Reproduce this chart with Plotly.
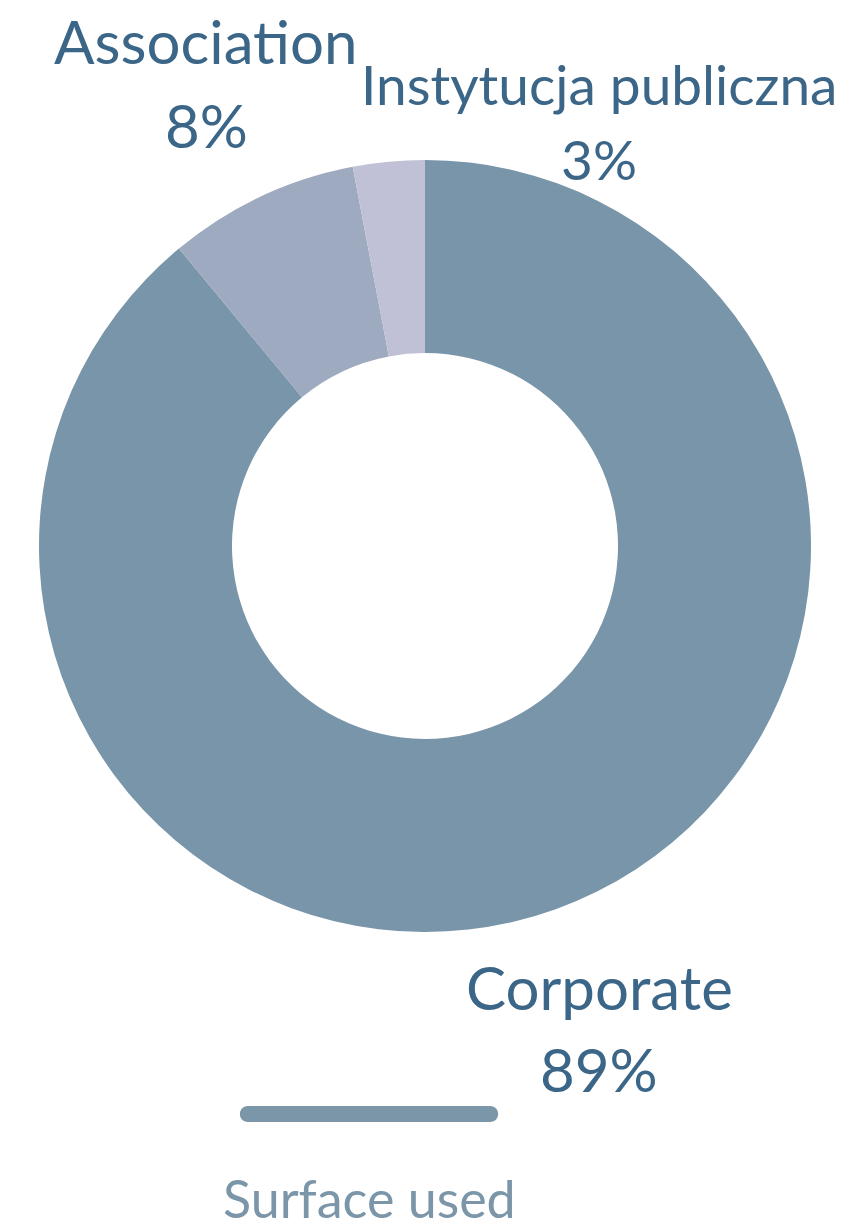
import plotly.graph_objects as go

CATEGORIES = ["Corporate", "Association", "Instytucja publiczna"]
SHARES = [89, 8, 3]
SLICE_COLORS = ["#7895a9", "#9eaabf", "#c0c1d6"]
LEGEND_LABEL = "Surface used"

LABEL_COLOR = "#3b6688"
LEGEND_COLOR = "#7b95a9"
FONT = "Lato, 'Open Sans', sans-serif"
W, H = 846, 1219

# where each slice label sits (pixel centre x, line-1 y, line-2 y, font size)
LABEL_POS = {
    "Corporate": (599, 987, 1069, 60),
    "Association": (206, 41, 125, 60),
    "Instytucja publiczna": (599, 84, 159, 55),
}


def px_x(x):
    return x / W


def px_y(y):
    return 1 - y / H


fig = go.Figure(
    go.Pie(
        labels=CATEGORIES,
        values=SHARES,
        hole=0.5,
        sort=False,
        direction="clockwise",
        rotation=0,
        marker=dict(colors=SLICE_COLORS, line=dict(width=0)),
        textinfo="none",
        hoverinfo="label+percent",
        domain=dict(x=[px_x(39), px_x(811)], y=[px_y(932), px_y(160)]),
    )
)

total = sum(SHARES)
annotations = []
for cat, val in zip(CATEGORIES, SHARES):
    cx, y1, y2, fs = LABEL_POS[cat]
    pct = f"{round(val / total * 100)}%"
    for txt, yy in ((cat, y1), (pct, y2)):
        annotations.append(
            dict(
                text=txt, x=px_x(cx), y=px_y(yy), xref="paper", yref="paper",
                xanchor="center", yanchor="middle", showarrow=False,
                font=dict(family=FONT, size=fs, color=LABEL_COLOR),
            )
        )

annotations.append(
    dict(
        text=LEGEND_LABEL, x=px_x(369), y=px_y(1198), xref="paper", yref="paper",
        xanchor="center", yanchor="middle", showarrow=False,
        font=dict(family=FONT, size=52, color=LEGEND_COLOR),
    )
)

# rounded legend bar
x0, x1, yc, r = 240, 498, 1114, 8
bar = (
    f"M {px_x(x0 + r)} {px_y(yc - r)} L {px_x(x1 - r)} {px_y(yc - r)} "
    f"C {px_x(x1 + r * 0.35)} {px_y(yc - r)} {px_x(x1 + r * 0.35)} {px_y(yc + r)} {px_x(x1 - r)} {px_y(yc + r)} "
    f"L {px_x(x0 + r)} {px_y(yc + r)} "
    f"C {px_x(x0 - r * 0.35)} {px_y(yc + r)} {px_x(x0 - r * 0.35)} {px_y(yc - r)} {px_x(x0 + r)} {px_y(yc - r)} Z"
)

fig.update_layout(
    width=W,
    height=H,
    margin=dict(l=0, r=0, t=0, b=0),
    paper_bgcolor="white",
    plot_bgcolor="white",
    showlegend=False,
    annotations=annotations,
    shapes=[dict(type="path", path=bar, xref="paper", yref="paper",
                 fillcolor=LEGEND_COLOR, line=dict(width=0))],
)

# drop the browser's default body margin so the figure fills the window
fig.write_html(
    "out.html",
    config={"displayModeBar": False},
    post_script="document.body.style.margin = '0';",
)
